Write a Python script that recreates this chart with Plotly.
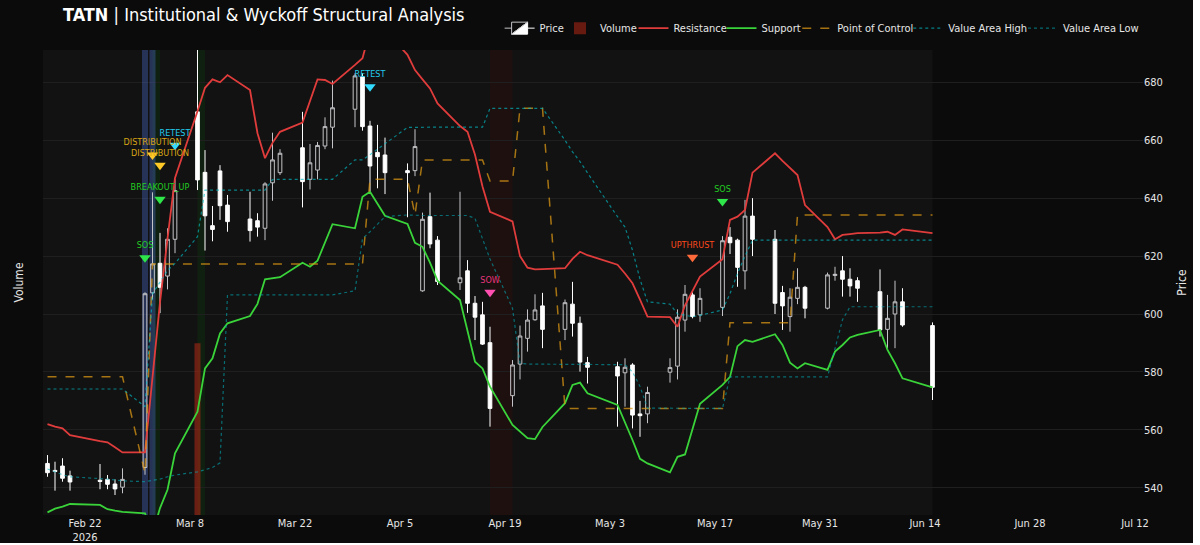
import pandas as pd
import plotly.graph_objects as go

FONT = "DejaVu Sans Condensed, Liberation Sans, sans-serif"

dates = [
    "2026-02-17", "2026-02-18", "2026-02-19", "2026-02-20", "2026-02-24", "2026-02-25", "2026-02-26", "2026-02-27",
    "2026-03-02", "2026-03-03", "2026-03-04", "2026-03-05", "2026-03-06",
    "2026-03-09", "2026-03-10", "2026-03-11", "2026-03-12", "2026-03-13",
    "2026-03-16", "2026-03-17", "2026-03-18", "2026-03-19", "2026-03-20",
    "2026-03-23", "2026-03-24", "2026-03-25", "2026-03-26", "2026-03-27",
    "2026-03-30", "2026-03-31", "2026-04-01", "2026-04-02", "2026-04-03",
    "2026-04-06", "2026-04-07", "2026-04-08", "2026-04-09", "2026-04-10",
    "2026-04-13", "2026-04-14", "2026-04-15", "2026-04-16", "2026-04-17",
    "2026-04-20", "2026-04-21", "2026-04-22", "2026-04-23", "2026-04-24",
    "2026-04-27", "2026-04-28", "2026-04-29", "2026-04-30",
    "2026-05-04", "2026-05-05", "2026-05-06", "2026-05-07", "2026-05-08",
    "2026-05-11", "2026-05-12", "2026-05-13", "2026-05-14", "2026-05-15",
    "2026-05-18", "2026-05-19", "2026-05-20", "2026-05-21", "2026-05-22",
    "2026-05-25", "2026-05-26", "2026-05-27", "2026-05-28", "2026-05-29",
    "2026-06-01", "2026-06-02", "2026-06-03", "2026-06-04", "2026-06-05",
    "2026-06-08", "2026-06-09", "2026-06-10", "2026-06-11", "2026-06-15",
]

opens = [
    548.4, 546.0, 547.5, 544.1, 542.6, 542.9, 541.3, 540.2,
    547.0, 607.3, 617.5, 613.1, 625.8,
    669.8, 648.9, 630.5, 649.4, 637.6,
    632.8, 632.2, 629.6, 645.3, 648.8,
    657.4, 646.5, 649.7, 658.0, 664.5,
    670.7, 681.9, 664.9, 655.8, 654.9,
    649.5, 649.5, 608.0, 633.6, 625.5,
    610.8, 614.9, 603.7, 599.7, 590.1,
    571.8, 582.7, 591.6, 598.0, 602.8,
    594.7, 603.4, 596.8, 583.2,
    581.8, 579.7, 582.4, 565.5, 565.5,
    579.9, 582.0, 597.9, 606.6, 599.7,
    602.3, 626.5, 625.5, 614.9, 633.8,
    625.8, 607.4, 599.1, 605.4, 609.2,
    602.0, 613.3, 614.9, 612.0, 611.5,
    607.7, 594.7, 600.0, 604.2, 596.0,
]
highs = [
    551.3, 549.0, 550.2, 545.9, 548.2, 544.4, 542.9, 546.7,
    607.5, 642.0, 628.0, 629.6, 646.5,
    698.0, 656.6, 637.3, 651.4, 641.1,
    642.2, 634.8, 645.5, 662.6, 656.9,
    669.8, 658.7, 659.4, 667.9, 680.6,
    683.1, 683.1, 666.7, 665.3, 660.9,
    652.0, 663.8, 635.0, 641.9, 626.9,
    642.2, 618.6, 606.2, 604.2, 595.6,
    584.1, 596.0, 601.6, 606.8, 607.3,
    605.0, 611.1, 599.1, 585.2,
    583.5, 584.7, 583.0, 570.0, 574.9,
    584.7, 601.6, 610.0, 607.5, 608.9,
    626.9, 630.0, 626.0, 639.4, 640.0,
    629.0, 609.7, 608.9, 615.8, 609.7,
    614.3, 616.3, 620.0, 615.8, 612.7,
    615.4, 606.6, 611.5, 608.9, 597.1,
]
lows = [
    543.8, 539.0, 542.1, 539.0, 539.5, 539.5, 537.5, 538.1,
    544.5, 605.0, 600.3, 608.5, 621.0,
    642.8, 621.9, 625.1, 632.5, 628.4,
    625.0, 626.7, 625.5, 639.1, 648.0,
    636.8, 643.0, 646.5, 656.9, 657.2,
    664.5, 663.3, 642.2, 643.4, 641.4,
    633.4, 647.6, 607.7, 622.7, 610.0,
    608.3, 600.4, 591.0, 589.3, 561.1,
    568.0, 577.4, 587.0, 597.7, 588.2,
    591.0, 592.2, 580.1, 576.0,
    561.1, 568.0, 560.5, 557.6, 562.3,
    576.3, 577.4, 593.9, 598.5, 597.3,
    599.3, 620.7, 609.4, 608.5, 620.0,
    600.0, 594.5, 593.9, 603.4, 598.5,
    601.6, 611.5, 606.0, 606.0, 604.2,
    592.2, 588.2, 588.2, 595.6, 570.3,
]
closes = [
    545.2, 545.6, 543.3, 542.0, 542.2, 541.2, 539.6, 542.9,
    607.0, 617.3, 609.2, 625.8, 642.6,
    646.3, 633.9, 629.2, 637.4, 631.9,
    628.8, 630.0, 644.9, 653.2, 655.5,
    645.7, 652.2, 658.2, 664.7, 671.2,
    682.2, 664.7, 651.1, 654.3, 648.8,
    648.8, 657.8, 632.7, 624.2, 611.2,
    612.5, 603.7, 598.9, 589.6, 567.4,
    582.4, 592.4, 597.9, 601.4, 594.7,
    603.9, 596.8, 583.4, 581.6,
    578.6, 581.6, 565.1, 564.9, 572.9,
    581.5, 598.9, 606.8, 599.1, 605.4,
    625.3, 624.6, 616.1, 633.8, 625.8,
    603.7, 602.8, 605.8, 609.2, 602.0,
    613.5, 613.7, 612.0, 609.7, 608.9,
    594.5, 598.5, 604.2, 596.2, 574.7,
]

resistance = [
    562.0, 561.1, 560.5, 558.2, 556.1, 555.7, 554.0, 552.2,
    552.2, 578.0, 604.0, 626.0, 647.0,
    670.0, 678.1, 681.0, 680.0, 682.5,
    677.3, 662.4, 653.8, 659.1, 662.9,
    666.1, 673.9, 681.0, 680.8, 679.4,
    686.0, 688.3, 698.0, 698.0, 698.0,
    689.5, 684.2, 681.0, 677.9, 672.7,
    664.9, 662.9, 655.0, 644.0, 635.3,
    632.0, 620.0, 616.0, 615.4, 615.5,
    615.8, 619.0, 621.5, 620.3,
    617.0, 614.0, 610.6, 605.0, 599.1,
    598.9, 595.6, 603.0, 608.0, 612.9,
    618.9, 632.5, 633.6, 635.9, 648.8,
    655.5, 652.9, 650.4, 648.0, 637.6,
    630.0, 625.8, 627.3, 627.6, 627.9,
    628.1, 628.4, 627.3, 629.2, 627.9,
]
support = [
    531.5, 532.8, 533.5, 534.4, 534.1, 532.6, 532.1, 531.7,
    531.2, 524.0, 533.0, 539.3, 551.9,
    566.3, 581.2, 584.7, 593.3, 596.8,
    599.3, 603.5, 612.0, 612.3, 612.7,
    617.7, 616.3, 618.4, 624.6, 631.0,
    629.6, 640.5, 642.2, 638.0, 633.9,
    631.1, 624.6, 623.2, 617.7, 611.5,
    604.8, 594.2, 583.5, 581.2, 574.9,
    561.7, 559.4, 557.1, 556.8, 561.0,
    569.2, 575.5, 576.3, 572.6,
    568.6, 562.8, 556.5, 550.0, 548.4,
    545.3, 550.7, 551.5, 560.0, 569.0,
    575.5, 578.3, 588.9, 591.0, 590.4,
    593.0, 589.3, 583.2, 581.2, 583.0,
    580.7, 587.0, 589.3, 591.9, 592.8,
    594.5, 587.6, 583.0, 577.8, 574.7,
]
poc = [
    578.3, 578.3, 578.3, 578.3, 578.3, 578.3, 578.3, 578.3,
    545.0, 617.3, 617.3, 617.3, 617.3,
    617.3, 617.3, 617.3, 617.3, 617.3,
    617.3, 617.3, 617.3, 617.3, 617.3,
    617.3, 617.3, 617.3, 617.3, 617.3,
    617.3, 617.3, 646.5, 646.5, 646.5,
    646.5, 634.2, 653.2, 653.2, 653.2,
    653.2, 653.2, 653.2, 653.2, 645.9,
    645.9, 671.0, 671.0, 671.0, 671.0,
    567.4, 567.4, 567.4, 567.4,
    567.4, 567.4, 567.4, 567.4, 567.4,
    567.4, 567.4, 567.4, 567.4, 567.4,
    567.4, 597.0, 597.0, 597.0, 597.0,
    597.0, 597.0, 597.0, 634.2, 634.2,
    634.2, 634.2, 634.2, 634.2, 634.2,
    634.2, 634.2, 634.2, 634.2, 634.2,
]
vah = [
    574.1, 574.1, 574.1, 574.1, 574.1, 574.1, 574.1, 574.1,
    568.0, 607.0, 611.0, 615.0, 617.5,
    626.7, 642.8, 642.8, 642.8, 642.8,
    642.8, 642.8, 642.8, 646.4, 646.5,
    646.5, 646.5, 646.5, 646.5, 646.5,
    653.2, 653.2, 655.0, 657.0, 658.8,
    664.4, 664.5, 664.5, 664.5, 664.5,
    664.5, 664.5, 664.5, 664.5, 671.0,
    671.0, 671.0, 671.0, 671.0, 671.0,
    660.0, 656.0, 652.6, 648.7,
    633.6, 630.0, 622.0, 612.0, 604.2,
    603.4, 600.0, 599.5, 599.1, 599.5,
    601.4, 607.0, 614.0, 620.0, 625.5,
    625.5, 625.5, 625.5, 625.5, 625.5,
    625.5, 625.5, 625.5, 625.5, 625.5,
    625.5, 625.5, 625.5, 625.5, 625.5,
]
val = [
    546.5, 545.5, 544.5, 543.8, 543.3, 543.0, 542.7, 542.4,
    542.1, 542.5, 543.0, 543.8, 544.4,
    545.5, 546.2, 547.0, 548.6, 606.6,
    606.6, 606.6, 606.6, 606.6, 606.6,
    606.6, 606.6, 606.6, 606.6, 606.6,
    608.0, 626.0, 628.4, 631.0, 633.6,
    634.2, 634.0, 634.0, 634.0, 634.0,
    634.0, 634.0, 633.0, 626.0, 619.0,
    602.0, 583.0, 582.7, 582.7, 582.7,
    582.7, 582.7, 582.7, 582.7,
    582.7, 582.5, 580.0, 575.0, 567.5,
    567.4, 567.4, 567.4, 567.4, 567.4,
    567.4, 578.3, 578.3, 578.3, 578.3,
    578.3, 578.3, 578.3, 578.3, 578.3,
    578.3, 588.0, 598.0, 602.5, 602.5,
    602.5, 602.5, 602.5, 602.5, 602.5,
]

# Volume spikes (millions of shares); the two breakout sessions run off the top of the scale
vol_dates = ["2026-03-09", "2026-03-02", "2026-03-03"]
vol_values = [48.0, 260.0, 240.0]
vol_colors = ["rgba(180,40,20,0.55)", "rgba(80,120,230,0.32)", "rgba(80,120,230,0.32)"]

# Wyckoff / structural signals
sig_dates = ["2026-03-02", "2026-03-03", "2026-03-04", "2026-03-04", "2026-03-06",
             "2026-04-01", "2026-04-17", "2026-05-14", "2026-05-18"]
sig_prices = [619.4, 654.9, 651.4, 639.6, 658.3, 678.5, 607.5, 619.6, 638.8]
sig_labels = ["SOS", "DISTRIBUTION", "DISTRIBUTION", "BREAKOUT_UP", "RETEST",
              "RETEST", "SOW", "UPTHRUST", "SOS"]
SIG_MARKER = {"SOS": "#2ee64a", "BREAKOUT_UP": "#2ee64a", "DISTRIBUTION": "#ffc928",
              "RETEST": "#33dcff", "SOW": "#ff4fb0", "UPTHRUST": "#ff6a3a"}
SIG_TEXT = {"SOS": "#22cc22", "BREAKOUT_UP": "#22cc22", "DISTRIBUTION": "#d9a514",
            "RETEST": "#22ccee", "SOW": "#e8347c", "UPTHRUST": "#ff4a1c"}

# Highlighted zones (start, end, colour)
zone_start = ["2026-03-03", "2026-03-09", "2026-04-17"]
zone_end = ["2026-03-04", "2026-03-10", "2026-04-20"]
zone_colors = ["rgba(0,200,0,0.08)", "rgba(0,200,0,0.08)", "rgba(150,0,0,0.10)"]

x_range = ["2026-02-16 09:36", "2026-07-13 01:36"]
price_range = [530.6, 691.15]
vol_range = [0, 130]

# legend placement (paper x of each legend box)
legend_x = {"legend": 0.4151, "legend2": 0.4700, "legend3": 0.5368, "legend4": 0.6168,
            "legend5": 0.6857, "legend6": 0.7866, "legend7": 0.8909}

fig = go.Figure()

fig.add_trace(go.Candlestick(
    x=dates, open=opens, high=highs, low=lows, close=closes, name="Price", yaxis="y2",
    legend="legend",
    increasing=dict(line=dict(color="#c4c4c8", width=1), fillcolor="rgba(0,0,0,0)"),
    decreasing=dict(line=dict(color="#ffffff", width=1), fillcolor="#ffffff"),
))
fig.add_trace(go.Bar(x=vol_dates, y=vol_values, name="Volume", yaxis="y", legend="legend2",
                     marker=dict(color=vol_colors, line=dict(width=0))))
fig.add_trace(go.Scatter(x=dates, y=resistance, name="Resistance", mode="lines", yaxis="y2",
                         legend="legend3", line=dict(color="#e03c3c", width=1.8)))
fig.add_trace(go.Scatter(x=dates, y=support, name="Support", mode="lines", yaxis="y2",
                         legend="legend4", line=dict(color="#3ad43a", width=1.8)))
fig.add_trace(go.Scatter(x=dates, y=poc, name="Point of Control", mode="lines", yaxis="y2",
                         legend="legend5",
                         line=dict(color="rgba(218,150,20,0.75)", width=1.5, dash="dash")))
fig.add_trace(go.Scatter(x=dates, y=vah, name="Value Area High", mode="lines", yaxis="y2",
                         legend="legend6",
                         line=dict(color="rgba(0,190,200,0.65)", width=1.2, dash="dot")))
fig.add_trace(go.Scatter(x=dates, y=val, name="Value Area Low", mode="lines", yaxis="y2",
                         legend="legend7",
                         line=dict(color="rgba(0,170,180,0.6)", width=1.2, dash="dot")))
fig.add_trace(go.Scatter(
    x=sig_dates, y=sig_prices, mode="markers+text", text=sig_labels, textposition="top center",
    marker=dict(symbol="triangle-down", size=10, color=[SIG_MARKER[s] for s in sig_labels]),
    textfont=dict(size=9, color=[SIG_TEXT[s] for s in sig_labels], family=FONT),
    showlegend=False, yaxis="y2", cliponaxis=False,
))

# background of the traded period
fig.add_shape(type="rect", xref="x", yref="paper", x0=x_range[0], x1=dates[-1], y0=0, y1=1,
              fillcolor="#121212", line=dict(width=0), layer="below")
for a, b, c in zip(zone_start, zone_end, zone_colors):
    fig.add_shape(type="rect", xref="x", yref="paper", x0=a, x1=b, y0=0, y1=1,
                  fillcolor=c, line=dict(width=0), layer="below")

legend_common = dict(orientation="h", xanchor="left", y=1.047, yanchor="middle",
                     bgcolor="rgba(0,0,0,0)", font=dict(size=11, color="#e6e6e6", family=FONT))
legend_layout = {k: dict(legend_common, x=v) for k, v in legend_x.items()}

fig.update_layout(
    width=1193, height=543,
    margin=dict(l=43, r=50, t=50, b=28, autoexpand=False),
    paper_bgcolor="#0b0b0b", plot_bgcolor="#0b0b0b",
    font=dict(family=FONT, color="#e6e6e6", size=11),
    title=dict(text="<b>TATN</b> | Institutional & Wyckoff Structural Analysis",
               x=63 / 1193, xanchor="left", y=1 - 15 / 543, yanchor="middle",
               font=dict(size=18, color="#ffffff", family=FONT)),
    bargap=0.2,
    xaxis=dict(type="date", range=x_range, rangeslider=dict(visible=False), automargin=False,
               showgrid=False, zeroline=False, tickfont=dict(size=11, color="#e6e6e6"),
               tick0="2026-02-22", dtick=14 * 24 * 3600 * 1000),
    yaxis=dict(range=vol_range, side="left", showgrid=False, zeroline=False, automargin=False,
               showticklabels=False, title=dict(text="Volume", font=dict(size=12, color="#e6e6e6"))),
    yaxis2=dict(range=price_range, side="right", overlaying="y", showgrid=True, automargin=False,
                gridcolor="#1f1f1f", zeroline=False, dtick=20,
                tickfont=dict(size=11, color="#e6e6e6"),
                title=dict(text="Price", font=dict(size=12, color="#e6e6e6"))),
    showlegend=True,
    **legend_layout,
)

fig.write_html("out.html")
